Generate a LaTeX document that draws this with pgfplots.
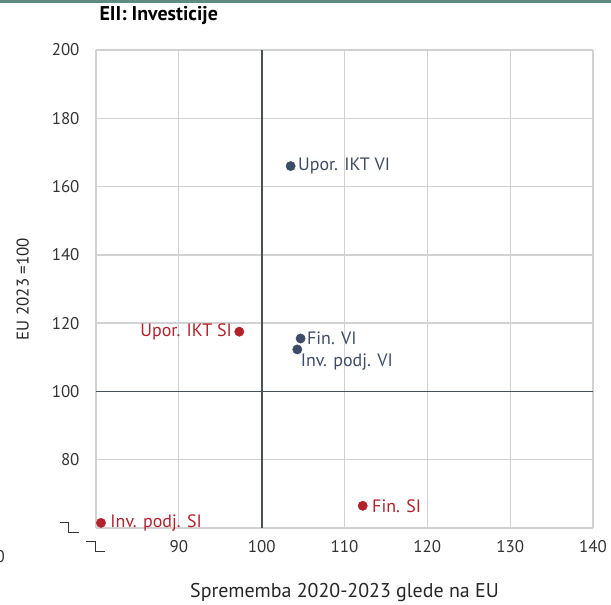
\documentclass[border=0pt]{standalone}
\usepackage{fontspec}
\setmainfont{PT Sans}
\usepackage{pgfplots}
\pgfplotsset{compat=1.18}
\definecolor{vi}{HTML}{3D4C66}
\definecolor{si}{HTML}{B3212B}
\definecolor{gridc}{HTML}{D2D2D2}
\definecolor{zero}{HTML}{4A5058}
\definecolor{topbar}{HTML}{5E8C82}
% axis-break glyph used in place of the first tick label
\newcommand\brk{\tikz[baseline=0pt]\draw[line width=1.1pt,black!80] (0,10bp)--(9bp,10bp)--(9bp,0)--(19bp,0);}
\begin{document}
\begin{tikzpicture}
\useasboundingbox (-96bp,-77bp) rectangle (515bp,528bp);
\begin{axis}[
    scale only axis,
    width=497bp,
    height=478bp,
    xmin=80, xmax=140,
    ymin=60, ymax=200,
    xtick={80,90,...,140},
    xticklabels={\brk,90,100,110,120,130,140},
    ytick={60,80,...,200},
    yticklabels={\raisebox{2bp}{\brk},80,100,120,140,160,180,200},
    major tick length=0pt,
    axis line style={draw=none},
    grid=major,
    grid style={draw=gridc, line width=1.3pt},
    /pgf/number format/assume math mode=true,
    tick label style={font=\fontsize{17}{20}\selectfont, text=black!80},
    xticklabel style={yshift=-9bp},
    yticklabel style={xshift=-13bp},
    xlabel={Sprememba 2020-2023 glede na EU},
    ylabel={EU 2023 =100},
    xlabel style={font=\fontsize{20}{24}\selectfont, text=black!85, yshift=-24bp},
    ylabel style={font=\fontsize{17}{20}\selectfont, text=black!85, yshift=16bp},
    clip=false,
]
\draw[zero, line width=1.7pt] (axis cs:100,60) -- (axis cs:100,200);
\draw[zero, line width=1.7pt] (axis cs:80,100) -- (axis cs:140,100);
% Slovenia
\addplot[only marks, mark=*, mark size=4.7pt, color=si] coordinates {(97.3,117.5)}
  node[anchor=east, xshift=-4bp, text=si, font=\fontsize{18}{21}\selectfont] {Upor. IKT SI};
\addplot[only marks, mark=*, mark size=4.7pt, color=si] coordinates {(112.2,66.5)}
  node[anchor=west, xshift=6bp, text=si, font=\fontsize{18}{21}\selectfont] {Fin. SI};
\addplot[only marks, mark=*, mark size=4.7pt, color=si] coordinates {(80.6,61.5)}
  node[anchor=west, xshift=6bp, text=si, font=\fontsize{18}{21}\selectfont] {Inv. podj. SI};
% EU reference (VI)
\addplot[only marks, mark=*, mark size=4.7pt, color=vi] coordinates {(103.5,166)}
  node[anchor=west, xshift=4bp, text=vi, font=\fontsize{18}{21}\selectfont] {Upor. IKT VI};
\addplot[only marks, mark=*, mark size=4.7pt, color=vi] coordinates {(104.3,112.3)}
  node[anchor=north west, xshift=0bp, yshift=-1bp, text=vi, font=\fontsize{18}{21}\selectfont] {Inv. podj. VI};
\addplot[only marks, mark=*, mark size=4.7pt, color=vi] coordinates {(104.7,115.5)}
  node[anchor=west, xshift=3bp, text=vi, font=\fontsize{18}{21}\selectfont] {Fin. VI};
\node[anchor=west, font=\bfseries\fontsize{20}{24}\selectfont] at (rel axis cs:0,1) [yshift=35bp] {EII: Investicije};
\end{axis}
\fill[topbar] (-96bp,525bp) rectangle (515bp,528bp);
% cut-off "0" at the left edge, as in the source
\node[anchor=east, inner sep=0pt, font=\fontsize{17}{20}\selectfont, text=black!80] at (-91bp,-29bp) {0};
\end{tikzpicture}
\end{document}
